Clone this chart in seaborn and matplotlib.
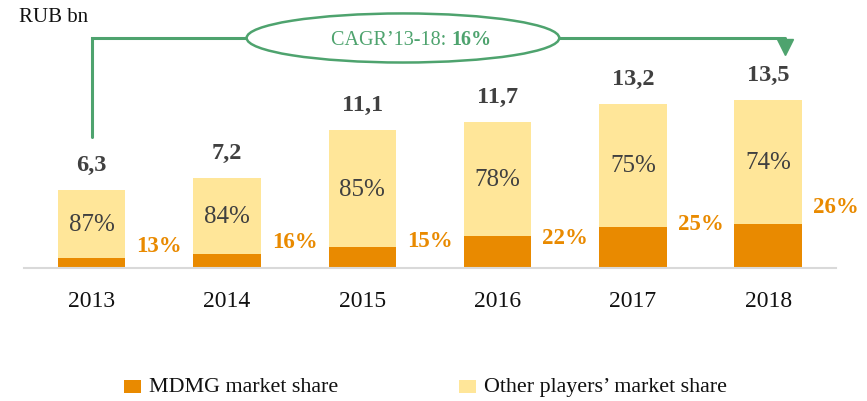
import matplotlib
matplotlib.use("Agg")
import matplotlib.pyplot as plt
from matplotlib.patches import Ellipse, Rectangle
import numpy as np
import pandas as pd
import seaborn as sns

# Market size, RUB bn, and MDMG share per year
years = ["2013", "2014", "2015", "2016", "2017", "2018"]
total = [6.3, 7.2, 11.1, 11.7, 13.2, 13.5]
mdmg_share = [13, 16, 15, 22, 25, 26]
other_share = [87, 84, 85, 78, 75, 74]
total_labels = ["6,3", "7,2", "11,1", "11,7", "13,2", "13,5"]
cagr_text = "CAGR\u201913-18:"
cagr_value = "16%"

ORANGE = "#E98A00"
YELLOW = "#FFE699"
GREEN = "#4EA36E"
DARK = "#404040"
AXIS = "#D9D9D9"

sns.set_theme(style="white")
plt.rcParams["font.family"] = ["Liberation Serif", "DejaVu Serif"]

df = pd.DataFrame({
    "year": years,
    "total": total,
    "mdmg": [t * s / 100 for t, s in zip(total, mdmg_share)],
})

W, H = 867, 402
fig = plt.figure(figsize=(W / 100, H / 100), dpi=100)
base_px = 269          # baseline, pixels from top
ax = fig.add_axes([24 / W, (H - base_px) / H, 812 / W, base_px / H])

sns.barplot(data=df, x="year", y="total", color=YELLOW, saturation=1,
            width=0.5, linewidth=0, ax=ax, order=years)
sns.barplot(data=df, x="year", y="mdmg", color=ORANGE, saturation=1,
            width=0.5, linewidth=0, ax=ax, order=years)

ax.set_xlim(-0.5, 5.5)
ax.set_ylim(0, 21.6)
ax.set_xlabel("")
ax.set_ylabel("")
ax.set_yticks([])
for side in ["left", "right", "top"]:
    ax.spines[side].set_visible(False)
ax.spines["bottom"].set_color(AXIS)
ax.spines["bottom"].set_linewidth(1.5)
ax.tick_params(axis="x", length=0, pad=16, labelsize=17, labelcolor="#111111")
for lbl in ax.get_xticklabels():
    lbl.set_fontfamily(["Liberation Serif", "DejaVu Serif"])

share_nudge = [0.95, 0.95, 0.55, -0.1, 0.25, 1.45]
for i in range(len(years)):
    t = total[i]
    m = df["mdmg"][i]
    # total value above the bar
    ax.text(i, t + 1.2, total_labels[i], ha="center", va="bottom",
            fontsize=17.5, fontweight="bold", color=DARK)
    # other players' share centred in the yellow segment
    ax.text(i, (m + t) / 2, f"{other_share[i]}%", ha="center", va="center",
            fontsize=18, color=DARK)
    # MDMG share to the right of the bar
    ax.text(i + 0.33, m + share_nudge[i], f"{mdmg_share[i]}%", ha="left",
            va="center", fontsize=16.5, fontweight="bold", color=ORANGE)

# CAGR connector from 2013 to 2018
y_top = 18.47
x_end = 5.12
ax.plot([0, 0, x_end], [total[0] + 4.2, y_top, y_top], color=GREEN, lw=2.2,
        clip_on=False, solid_joinstyle="miter", zorder=3)
ax.plot([x_end], [y_top - 0.72], marker="v", markersize=11, color=GREEN,
        clip_on=False, zorder=4)
ell = Ellipse((2.30, y_top), width=2.31, height=3.94, facecolor="white",
              edgecolor=GREEN, lw=1.8, clip_on=False, zorder=5)
ax.add_patch(ell)
ax.text(2.66, y_top - 0.52, cagr_text + " ", ha="right", va="baseline",
        fontsize=14.5, color=GREEN, zorder=6)
ax.text(2.66, y_top - 0.52, cagr_value, ha="left", va="baseline",
        fontsize=14.5, fontweight="bold", color=GREEN, zorder=6)

fig.text(19 / W, 1 - 17 / H, "RUB bn", ha="left", va="center", fontsize=15,
         color="#111111")

# legend
leg_items = [(124, ORANGE, "MDMG market share"),
             (459, YELLOW, "Other players\u2019 market share")]
for x0, col, lab in leg_items:
    fig.patches.append(Rectangle((x0 / W, 1 - 394 / H), 17 / W, 13 / H,
                                 transform=fig.transFigure, facecolor=col,
                                 edgecolor="none"))
    fig.text((x0 + 25) / W, 1 - 388 / H, lab, ha="left", va="center",
             fontsize=15.8, color="#111111")

fig.savefig("out.png", dpi=100)
